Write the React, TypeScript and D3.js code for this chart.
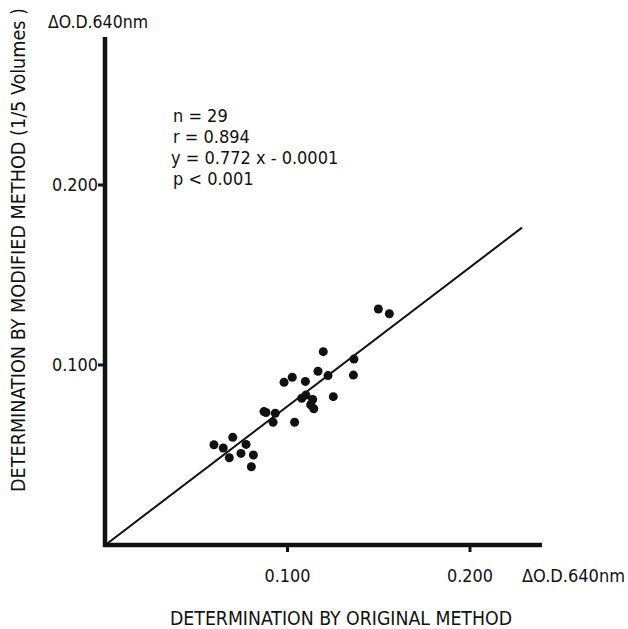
import React from "react";
import * as d3 from "d3";

const originalValues = [0.1498, 0.1558, 0.1196, 0.1364, 0.1361, 0.1167, 0.1222, 0.0981, 0.1026, 0.1098, 0.1251, 0.1078, 0.1101, 0.1138, 0.1127, 0.1144, 0.0871, 0.0882, 0.0933, 0.0921, 0.1039, 0.0700, 0.0597, 0.0648, 0.0773, 0.0745, 0.0813, 0.0681, 0.0802];
const modifiedValues = [0.1311, 0.1285, 0.1074, 0.1033, 0.0944, 0.0965, 0.0941, 0.0904, 0.0932, 0.0909, 0.0824, 0.0815, 0.0833, 0.0809, 0.0779, 0.0757, 0.0741, 0.0736, 0.0732, 0.0682, 0.0682, 0.0598, 0.0557, 0.0539, 0.0559, 0.0509, 0.0500, 0.0485, 0.0435];
const tickValues = [0.1, 0.2];
const tickLabels = ["0.100", "0.200"];
const statLines = ["n = 29", "r = 0.894", "y = 0.772 x - 0.0001", "p < 0.001"];
const slope = 0.772;
const intercept = -0.0001;
const lineRange = [0, 0.2285];
const unitLabel = "ΔO.D.640nm";
const xTitle = "DETERMINATION BY ORIGINAL METHOD";
const yTitle = "DETERMINATION BY MODIFIED METHOD (1/5 Volumes )";

const FONT = "'Liberation Sans Narrow', 'DejaVu Sans Condensed', 'Noto Sans', sans-serif";

export default function App() {
  const x = d3.scaleLinear().domain([0, 0.1]).range([105, 287.5]);
  const y = d3.scaleLinear().domain([0, 0.1]).range([545, 365]);
  const line = d3.line<number>().x((v) => x(v)).y((v) => y(slope * v + intercept));

  return (
    <svg width={628} height={629} style={{ position: "absolute", left: 0, top: 0, background: "#fff" }}>
      <rect width={628} height={629} fill="#fff" />
      <line x1={105} y1={37} x2={105} y2={547} stroke="#111" strokeWidth={4.5} />
      <line x1={103} y1={545} x2={542} y2={545} stroke="#111" strokeWidth={4.5} />
      {tickValues.map((t, i) => (
        <g key={"xt" + i}>
          <line x1={x(t)} x2={x(t)} y1={545} y2={552} stroke="#111" strokeWidth={3} />
          <text x={x(t)} y={582} textAnchor="middle" fontFamily={FONT} fontSize={18} fill="#111" textLength={46} lengthAdjust="spacingAndGlyphs">{tickLabels[i]}</text>
        </g>
      ))}
      {tickValues.map((t, i) => (
        <g key={"yt" + i}>
          <line x1={98} x2={105} y1={y(t)} y2={y(t)} stroke="#111" strokeWidth={3} />
          <text x={98} y={y(t) + 6} textAnchor="end" fontFamily={FONT} fontSize={18} fill="#111" textLength={46} lengthAdjust="spacingAndGlyphs">{tickLabels[i]}</text>
        </g>
      ))}
      <path d={line(lineRange) || ""} fill="none" stroke="#111" strokeWidth={2} />
      {originalValues.map((v, i) => (
        <circle key={i} cx={x(v)} cy={y(modifiedValues[i])} r={4.5} fill="#111" />
      ))}
      {statLines.map((s, i) => (
        <text key={s} x={i === 2 ? 171 : 173} y={122 + i * 21} fontFamily={FONT} fontSize={18} fill="#111">{s}</text>
      ))}
      <text x={48} y={28} fontFamily={FONT} fontSize={18} fill="#111" textLength={100} lengthAdjust="spacingAndGlyphs">{unitLabel}</text>
      <text x={522} y={582} fontFamily={FONT} fontSize={18} fill="#111" textLength={103} lengthAdjust="spacingAndGlyphs">{unitLabel}</text>
      <text x={170} y={625} fontFamily={FONT} fontSize={19} fill="#111" textLength={342} lengthAdjust="spacingAndGlyphs">{xTitle}</text>
      <text transform="translate(25,492) rotate(-90)" fontFamily={FONT} fontSize={19} fill="#111" textLength={484} lengthAdjust="spacingAndGlyphs">{yTitle}</text>
    </svg>
  );
}
